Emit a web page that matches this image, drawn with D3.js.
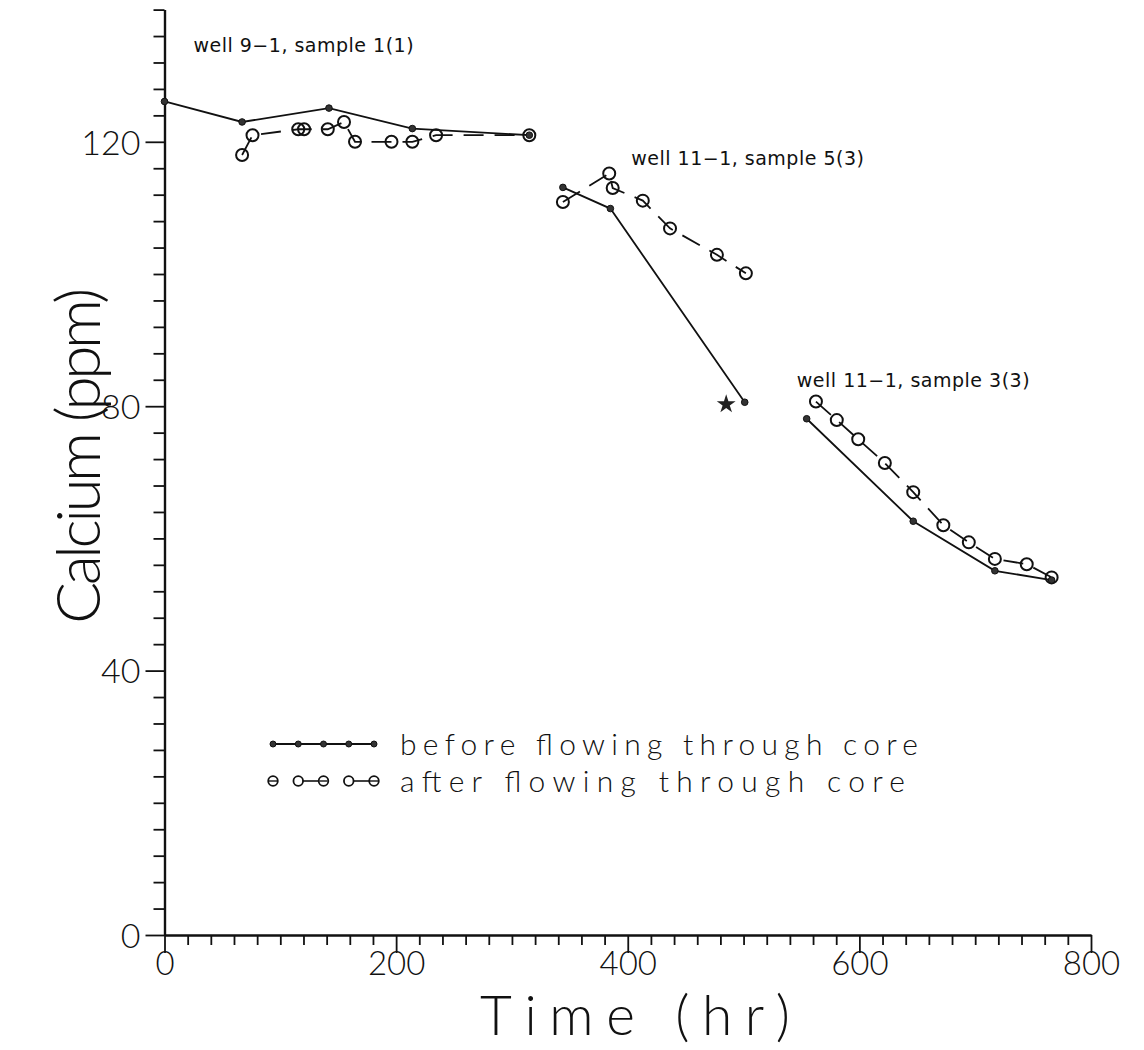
<!DOCTYPE html>
<html>
<head>
<meta charset="utf-8">
<script src="https://cdn.jsdelivr.net/npm/d3@7"></script>
<style>
  html, body { margin: 0; padding: 0; background: #fff; }
  svg { display: block; }
  text { fill: #111; font-family: Lato, "Open Sans", "DejaVu Sans", sans-serif; }
</style>
</head>
<body>
<svg id="chart" width="1144" height="1050"></svg>
<script>
// Calcium concentration vs. time, before and after flowing through core

// well 9-1, sample 1(1)
const s1BeforeHr = [0, 67, 142, 214, 315];
const s1BeforeCa = [126.1, 123.0, 125.1, 122.0, 121.0];
const s1AfterHr  = [67, 76, 115.5, 120.5, 141, 155, 164.5, 196, 214, 234.5, 315];
const s1AfterCa  = [118.0, 121.0, 121.9, 121.9, 121.9, 123.0, 120.0, 120.0, 120.0, 121.0, 121.0];

// well 11-1, sample 5(3)
const s2BeforeHr = [344, 385, 501];
const s2BeforeCa = [113.1, 109.9, 80.6];
const s2AfterHr  = [344, 384, 387, 413, 436.5, 477, 502];
const s2AfterCa  = [110.9, 115.2, 113.0, 111.1, 106.9, 102.9, 100.1];
const starHr = [485];
const starCa = [80.3];

// well 11-1, sample 3(3)
const s3BeforeHr = [554.5, 646.5, 717, 766];
const s3BeforeCa = [78.1, 62.6, 55.1, 53.7];
const s3AfterHr  = [562.5, 580.5, 599, 622, 646.5, 672.5, 694.5, 717, 744.5, 766];
const s3AfterCa  = [80.7, 77.9, 75.0, 71.4, 67.0, 62.0, 59.4, 56.9, 56.1, 54.1];

const xTicks = [0, 200, 400, 600, 800];
const yTicks = [0, 40, 80, 120];

const annotations = [
  { text: "well 9\u22121, sample 1(1)", hr: 25, ca: 133.6 },
  { text: "well 11\u22121, sample 5(3)", hr: 403, ca: 116.5 },
  { text: "well 11\u22121, sample 3(3)", hr: 546, ca: 82.9 }
];

const legendLabels = ["before flowing through core", "after flowing through core"];

const svg = d3.select("#chart");

const x = d3.scaleLinear().domain([0, 800]).range([164.5, 1091]);
const y = d3.scaleLinear().domain([0, 140]).range([935, 9.6]);

const zip = (a, b) => a.map((v, i) => [v, b[i]]);
const before = [zip(s1BeforeHr, s1BeforeCa), zip(s2BeforeHr, s2BeforeCa), zip(s3BeforeHr, s3BeforeCa)];
const after  = [zip(s1AfterHr, s1AfterCa), zip(s2AfterHr, s2AfterCa), zip(s3AfterHr, s3AfterCa)];

// ---- axes: minor ticks in their own groups, majors with labels on top ----
const xMinor = d3.range(0, 801, 20).filter(v => v % 200 !== 0);
const yMinor = d3.range(0, 141, 4).filter(v => v % 40 !== 0);

svg.append("g").attr("class", "minor")
  .attr("transform", `translate(0,${y(0)})`)
  .call(d3.axisBottom(x).tickValues(xMinor).tickSize(10).tickSizeOuter(0).tickFormat(""));
svg.append("g").attr("class", "minor")
  .attr("transform", `translate(${x(0)},0)`)
  .call(d3.axisLeft(y).tickValues(yMinor).tickSize(11).tickSizeOuter(0).tickFormat(""));

const xAxisG = svg.append("g").attr("transform", `translate(0,${y(0)})`)
  .call(d3.axisBottom(x).tickValues(xTicks).tickSize(18).tickSizeOuter(0).tickFormat(d3.format("d")));
const yAxisG = svg.append("g").attr("transform", `translate(${x(0)},0)`)
  .call(d3.axisLeft(y).tickValues(yTicks).tickSize(19).tickSizeOuter(0).tickPadding(5).tickFormat(d3.format("d")));

svg.selectAll(".domain").attr("stroke", "#111").attr("stroke-width", 2.2);
svg.selectAll(".tick line").attr("stroke", "#111").attr("stroke-width", 1.8);
svg.selectAll(".tick text")
  .attr("font-size", 34)
  .attr("font-weight", 300)
  .attr("fill", "#111")
  .style("font-family", "Lato, 'Open Sans', sans-serif");
xAxisG.selectAll(".tick text").attr("font-size", 33).attr("y", 40).attr("dy", 0);
yAxisG.selectAll(".tick text").attr("dy", "0.36em");

// axis titles
svg.append("text")
  .attr("x", 635)
  .attr("y", 1035)
  .attr("text-anchor", "middle")
  .attr("font-size", 55)
  .attr("font-weight", 300)
  .attr("textLength", 310)
  .attr("lengthAdjust", "spacing")
  .text("Time (hr)");

svg.append("text")
  .attr("transform", `translate(100,${y(72.5)}) rotate(-90)`)
  .attr("text-anchor", "middle")
  .attr("font-size", 62)
  .attr("font-weight", 300)
  .attr("textLength", 336)
  .attr("lengthAdjust", "spacing")
  .text("Calcium (ppm)");

// ---- data ----
const line = d3.line().x(d => x(d[0])).y(d => y(d[1]));
const plot = svg.append("g");

plot.selectAll("path.before").data(before).join("path")
  .attr("class", "before")
  .attr("d", line)
  .attr("fill", "none")
  .attr("stroke", "#111")
  .attr("stroke-width", 1.8);

plot.selectAll("path.after").data(after).join("path")
  .attr("class", "after")
  .attr("d", line)
  .attr("fill", "none")
  .attr("stroke", "#111")
  .attr("stroke-width", 1.8)
  .attr("stroke-dasharray", "20,11");

plot.selectAll("circle.after").data(after.flat()).join("circle")
  .attr("class", "after")
  .attr("cx", d => x(d[0]))
  .attr("cy", d => y(d[1]))
  .attr("r", 6)
  .attr("fill", "none")
  .attr("stroke", "#111")
  .attr("stroke-width", 2);

plot.selectAll("circle.before").data(before.flat()).join("circle")
  .attr("class", "before")
  .attr("cx", d => x(d[0]))
  .attr("cy", d => y(d[1]))
  .attr("r", 3.3)
  .attr("fill", "#333")
  .attr("stroke", "#111")
  .attr("stroke-width", 1);

plot.selectAll("path.star").data(zip(starHr, starCa)).join("path")
  .attr("class", "star")
  .attr("transform", d => `translate(${x(d[0])},${y(d[1])})`)
  .attr("d", d3.symbol().type(d3.symbolStar).size(110))
  .attr("fill", "#222");

// ---- annotations ----
svg.selectAll("text.note").data(annotations).join("text")
  .attr("class", "note")
  .attr("x", d => x(d.hr))
  .attr("y", d => y(d.ca))
  .attr("font-size", 19)
  .attr("letter-spacing", 0.5)
  .style("font-family", "'DejaVu Sans', Lato, sans-serif")
  .text(d => d.text);

// ---- legend ----
const legend = svg.append("g").attr("transform", "translate(273,0)");
const lx = d3.scaleLinear().domain([0, 4]).range([0, 101]);
const legendRows = [744, 781];

legend.append("path")
  .attr("d", d3.line()([[lx(0), legendRows[0]], [lx(4), legendRows[0]]]))
  .attr("stroke", "#111").attr("stroke-width", 1.8);
legend.selectAll("circle.lb").data(d3.range(5)).join("circle")
  .attr("class", "lb")
  .attr("cx", d => lx(d)).attr("cy", legendRows[0]).attr("r", 3)
  .attr("fill", "#333").attr("stroke", "#111").attr("stroke-width", 1);

[[1, 2], [3, 4]].forEach(([a, b]) => {
  legend.append("path")
    .attr("d", d3.line()([[lx(a), legendRows[1]], [lx(b), legendRows[1]]]))
    .attr("stroke", "#111").attr("stroke-width", 1.6);
});
legend.selectAll("circle.la").data(d3.range(5)).join("circle")
  .attr("class", "la")
  .attr("cx", d => lx(d)).attr("cy", legendRows[1]).attr("r", 4.8)
  .attr("fill", "#fff").attr("stroke", "#111").attr("stroke-width", 1.8);
legend.selectAll("path.tick-in").data([0, 2, 4]).join("path")
  .attr("class", "tick-in")
  .attr("d", d => d3.line()([[lx(d) - 4, legendRows[1]], [lx(d) + 4, legendRows[1]]]))
  .attr("stroke", "#111").attr("stroke-width", 1.4);

legend.selectAll("text.lt").data(legendLabels).join("text")
  .attr("class", "lt")
  .attr("x", 127)
  .attr("y", (d, i) => legendRows[i] + 11)
  .attr("font-size", 30)
  .attr("font-weight", 300)
  .attr("textLength", (d, i) => i === 0 ? 518 : 505)
  .attr("lengthAdjust", "spacing")
  .text(d => d);
</script>
</body>
</html>
